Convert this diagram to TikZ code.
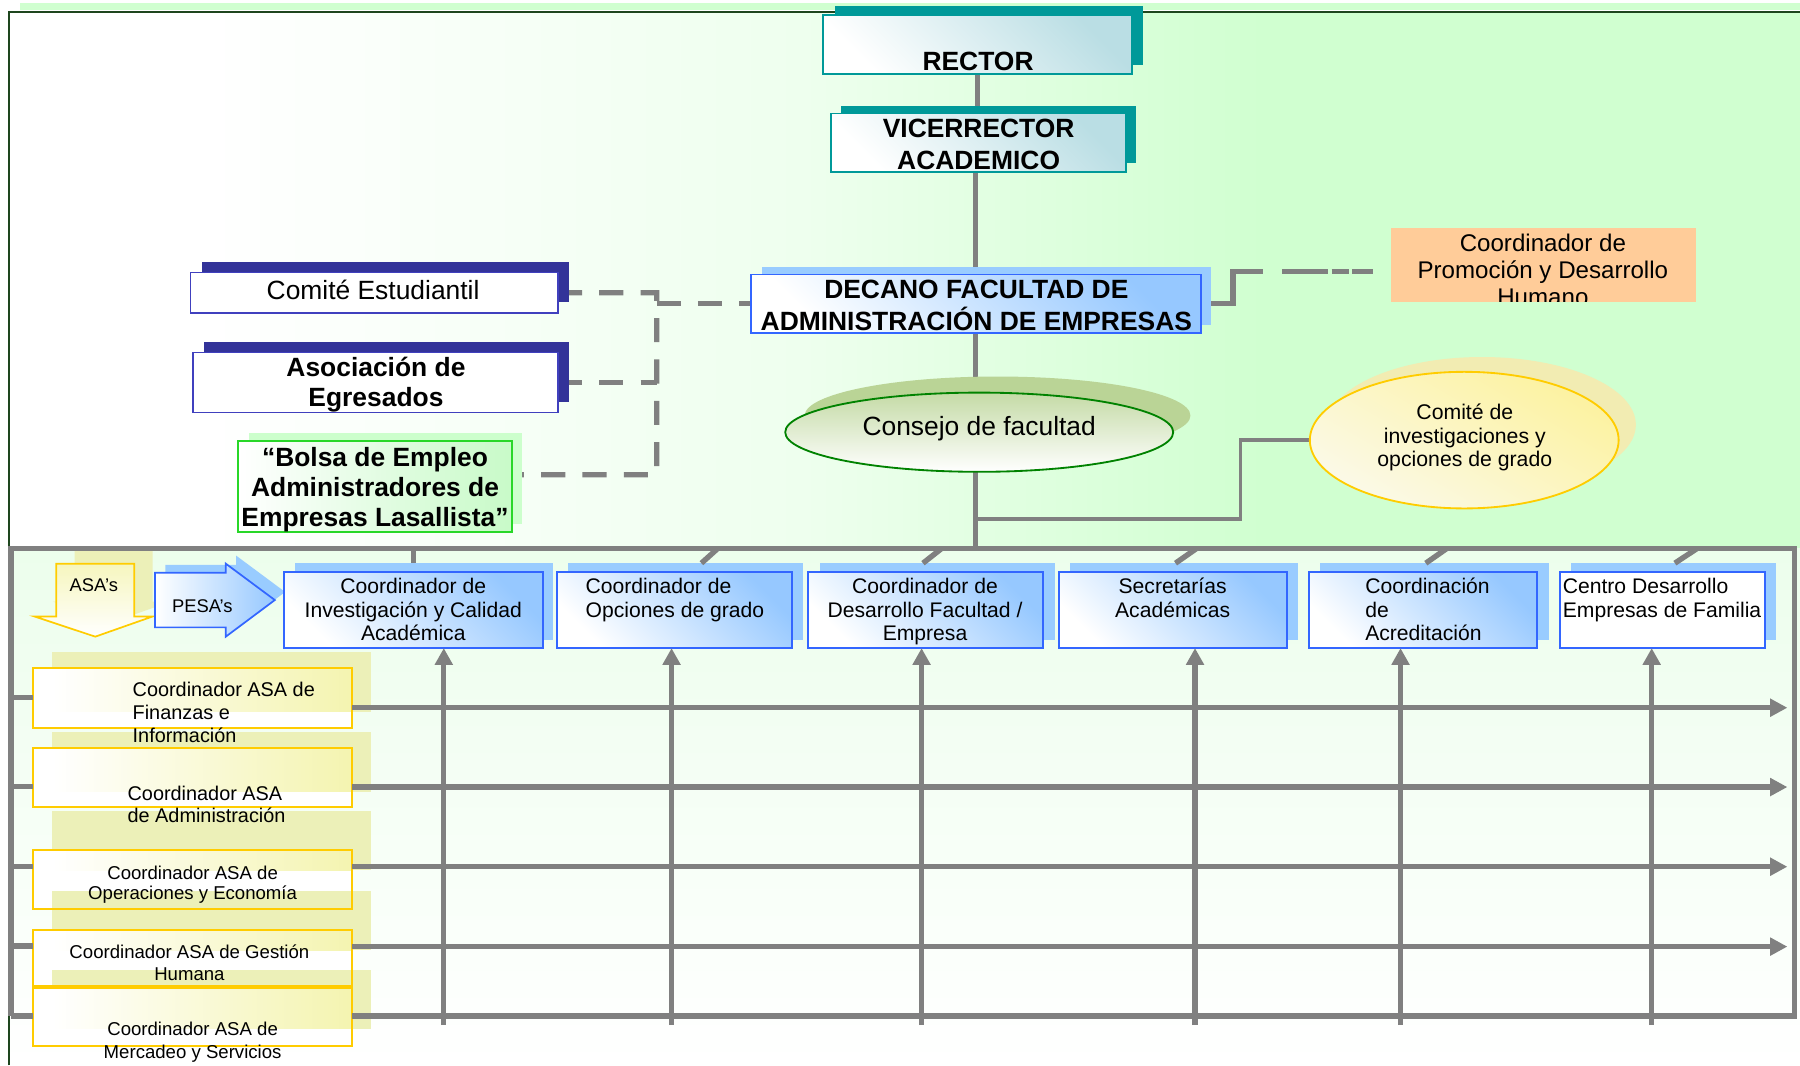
\documentclass[tikz,border=0pt]{standalone}
\usepackage{fontspec}
\setmainfont{Liberation Sans}
\usetikzlibrary{arrows.meta,calc,shapes.geometric}
\definecolor{gline}{RGB}{128,128,128}
\definecolor{bggreen}{RGB}{208,255,208}
\definecolor{midgreen}{RGB}{238,255,238}
\definecolor{lowgreen}{RGB}{236,254,236}
\definecolor{frameg}{RGB}{30,70,30}
\definecolor{tealc}{RGB}{0,153,153}
\definecolor{tealfill}{RGB}{186,222,228}
\definecolor{navysh}{RGB}{51,51,153}
\definecolor{navybd}{RGB}{64,64,190}
\definecolor{bluebd}{RGB}{51,102,255}
\definecolor{bluesh}{RGB}{153,204,255}
\definecolor{bluefill}{RGB}{150,200,255}
\definecolor{orangec}{RGB}{255,204,153}
\definecolor{goldc}{RGB}{255,204,0}
\definecolor{yshadow}{RGB}{236,240,184}
\definecolor{yover}{RGB}{244,244,176}
\definecolor{yarrow}{RGB}{246,246,190}
\definecolor{greenbd}{RGB}{40,215,40}
\definecolor{greensh}{RGB}{204,255,204}
\definecolor{greenfill}{RGB}{200,250,200}
\definecolor{olivesh}{RGB}{186,212,150}
\definecolor{darkgreen}{RGB}{0,130,0}
\definecolor{yellsh}{RGB}{242,236,178}
\definecolor{yellfill}{RGB}{252,242,160}
\newcommand{\fsz}[2]{\fontsize{#1}{#2}\selectfont}
\pgfdeclarelayer{back}
\pgfdeclarelayer{lines}
\pgfsetlayers{back,lines,main}
\begin{document}
\begin{tikzpicture}[x=1pt,y=-1pt,line join=miter,
 gl/.style={draw=gline,line width=4.7},
 gmid/.style={draw=gline,line width=3.9},
 gthin/.style={draw=gline,line width=2.9},
 gdash/.style={draw=gline,line width=4.6,dash pattern=on 21pt off 15pt},
 pdash/.style={draw=gline,line width=4.6,dash pattern=on 40pt off 3pt on 15pt off 3pt},
 uparr/.style={draw=gline,line width=4.5,-{Triangle[length=14.5pt,width=15pt]}},
 rarr/.style={draw=gline,line width=4.7,-{Triangle[length=15pt,width=15pt]}},
 boxbase/.style={rectangle,inner sep=0pt,outer sep=0pt,anchor=north west},
 tealbox/.style={boxbase,draw=tealc,line width=1.3,top color=tealfill,bottom color=white,shading angle=-45},
 navybox/.style={boxbase,draw=navybd,line width=1.4,fill=white},
 bluebox/.style={boxbase,draw=bluebd,line width=1.5,top color=bluefill,bottom color=white,shading angle=-45},
 whitebox/.style={boxbase,draw=bluebd,line width=1.5,fill=white},
 greenbox/.style={boxbase,draw=greenbd,line width=1.6,left color=white,right color=greenfill},
 asabox/.style={boxbase,draw=goldc,line width=1.6},
 txt/.style={inner sep=0pt,outer sep=0pt,text=black},
 bigb/.style={txt,font=\fsz{23}{27}\bfseries},
 rowt/.style={txt,font=\fsz{18.4}{20.6}},
]
\useasboundingbox (0,0) rectangle (1568,928);
% ---------- background ----------
\begin{pgfonlayer}{back}
\fill[white] (0,0) rectangle (1568,928);
\fill[bggreen] (17,2.3) rectangle (1568,8.7);
\shade[left color=white,right color=midgreen] (180,10) rectangle (700,478);
\shade[left color=midgreen,right color=bggreen] (699.5,10) rectangle (1100,478);
\fill[bggreen] (1099.5,10) rectangle (1568,478);
\shade[top color=lowgreen,bottom color=white] (8,478) rectangle (1568,928);
\draw[frameg,line width=1.6] (8,928) -- (8,10.5) -- (1568,10.5);
\end{pgfonlayer}

% ---------- coordinates ----------
\coordinate (busL) at (9.5,478);
\coordinate (busR) at (1563,478);
\coordinate (botR) at (1563,885);
\coordinate (botL) at (9.5,885);
\coordinate (dv1) at (572,255.1);
\coordinate (dv2) at (572,413.5);
\coordinate (dv3) at (572,264.5);
\coordinate (br1) at (850,452);
\coordinate (br2) at (1080.7,452);
\coordinate (pd1) at (1100,236.5);
\coordinate (pd2) at (1117,236.5);

% ---------- top boxes ----------
\fill[tealc] (727,5) rectangle (996,56.5);
\node[tealbox,minimum width=269pt,minimum height=51.5pt] (rector) at (717,13) {};
\fill[tealc] (733,92) rectangle (990,142);
\node[tealbox,minimum width=257pt,minimum height=51pt] (vice) at (724,99) {};
\fill[bluesh] (664,233) rectangle (1055,283);
\node[bluebox,minimum width=392pt,minimum height=51pt] (decano) at (654,239) {};
\node[boxbase,fill=orangec,minimum width=265.5pt,minimum height=64.4pt] (promo) at (1211.5,198.6) {};
\fill[navysh] (175.6,228) rectangle (495.6,262.8);
\node[navybox,minimum width=320pt,minimum height=35.2pt] (comite) at (166,237.5) {};
\fill[navysh] (177.7,298) rectangle (495.6,350);
\node[navybox,minimum width=318pt,minimum height=52.5pt] (asoc) at (168,307) {};
\fill[greensh] (217,377) rectangle (455,456.5);
\node[greenbox,minimum width=238.5pt,minimum height=79.5pt] (bolsa) at (207.5,384) {};
\fill[olivesh] (869,362) ellipse [x radius=168,y radius=34];
\node[ellipse,draw=darkgreen,line width=1.6,top color=olivesh!85!white,middle color=olivesh!55!white,bottom color=white,minimum width=338pt,minimum height=69pt,inner sep=0pt] (consejo) at (853,376.5) {};
\fill[yellsh] (1291,370) ellipse [x radius=134,y radius=59];
\node[ellipse,draw=goldc,line width=1.6,top color=yellfill,bottom color=yellsh!30!white,shading angle=-30,minimum width=269pt,minimum height=119pt,inner sep=0pt] (cominv) at (1275.5,383.4) {};

% ---------- top connectors ----------
\begin{pgfonlayer}{lines}
\draw[gmid] (rector.south) -- (rector.south |- vice.north);
\draw[gl] (decano.north |- vice.south) -- (decano.north);
\draw[gl] (decano.south) -- (decano.south |- busL);
\draw[gthin] (br1) -- (br2) |- (cominv.west);
\draw[gdash] (comite.east) -- (dv1) -- (dv2) -- (dv2 -| bolsa.east);
\draw[gdash] (asoc.east) -- (asoc.east -| dv1);
\draw[gdash] (dv3) -- (decano.west);
\draw[gl] (decano.east) -- ++(28,0) |- (pd1);
\draw[pdash,shorten >=15.5pt] (pd2) -- (pd2 -| promo.west);
\end{pgfonlayer}

% ---------- ASA's and PESA's arrows ----------
\fill[yshadow] (65,478) -- (133,478) -- (133,524) -- (149,524) -- (99,541.6) -- (46,524) -- (65,524) -- cycle;
\draw[goldc,line width=1.5,top color=yarrow,bottom color=white] (49,491) -- (117,491) -- (117,537) -- (133,537) -- (83,554.6) -- (30,537) -- (49,537) -- cycle;
\fill[bluesh] (144,492) -- (205.7,492) -- (205.7,484) -- (248.4,515.7) -- (205.7,547.6) -- (205.7,539.5) -- (144,539.5) -- cycle;
\draw[bluebd,line width=1.5,left color=white,right color=bluefill] (135,499) -- (196.7,499) -- (196.7,491) -- (239.4,522.7) -- (196.7,554.6) -- (196.7,546.5) -- (135,546.5) -- cycle;

% ---------- row boxes ----------
\fill[bluesh] (257,490.6) rectangle ++(225,67);
\node[bluebox,minimum width=225.3pt,minimum height=66.6pt] (inv) at (247.4,498) {};
\fill[bluesh] (494.7,490.6) rectangle ++(205,67);
\node[bluebox,minimum width=205pt,minimum height=66.6pt] (opc) at (485,498) {};
\fill[bluesh] (714,490.6) rectangle ++(204.6,67);
\node[bluebox,minimum width=204.6pt,minimum height=66.6pt] (des) at (704,498) {};
\fill[bluesh] (932.5,490.6) rectangle ++(198.5,67);
\node[bluebox,minimum width=198.5pt,minimum height=66.6pt] (sec) at (922.5,498) {};
\fill[bluesh] (1150,490.6) rectangle ++(199,67);
\node[bluebox,minimum width=199pt,minimum height=66.6pt] (coa) at (1140,498) {};
\fill[bluesh] (1368.7,490.6) rectangle ++(178.8,67);
\node[whitebox,minimum width=178.8pt,minimum height=66.6pt] (cen) at (1358.7,498) {};

% ---------- ASA coordinator boxes ----------
\fill[yshadow] (45.6,568) rectangle (323.2,620);
\fill[white] (29,582) rectangle (306.7,634);
\shade[left color=white,right color=yover] (45.6,582) rectangle (306.7,620);
\fill[yshadow] (45.6,637.5) rectangle (323.2,689.6);
\fill[white] (29,651.7) rectangle (306.7,703);
\shade[left color=white,right color=yover] (45.6,651.7) rectangle (306.7,689.6);
\fill[yshadow] (45.6,706.6) rectangle (323.2,758);
\fill[white] (29,740.5) rectangle (306.7,792);
\shade[left color=white,right color=yover] (45.6,740.5) rectangle (306.7,758);
\fill[yshadow] (45.6,776) rectangle (323.2,827.6);
\fill[white] (29,810) rectangle (306.7,859);
\shade[left color=white,right color=yover] (45.6,810) rectangle (306.7,827.6);
\fill[yshadow] (45.6,845) rectangle (323.2,896);
\fill[white] (29,860.7) rectangle (306.7,911);
\shade[left color=white,right color=yover] (45.6,860.7) rectangle (306.7,896);
\node[asabox,minimum width=277.7pt,minimum height=52pt] (asa1) at (29,582) {};
\node[asabox,minimum width=277.7pt,minimum height=51.3pt] (asa2) at (29,651.7) {};
\node[asabox,minimum width=277.7pt,minimum height=51.5pt] (asa3) at (29,740.5) {};
\node[asabox,minimum width=277.7pt,minimum height=49pt] (asa4) at (29,810) {};
\node[asabox,minimum width=277.7pt,minimum height=50.3pt] (asa5) at (29,860.7) {};

% ---------- grid connectors ----------
\draw[gl] (botL) -- (busL) -- (busR) -- (botR) -- (botR -| asa5.east);
\draw[gl] (botL) -- (botL -| asa5.west);
\coordinate (s1) at (9.5,607.7);
\coordinate (s2) at (9.5,685);
\coordinate (s3) at (9.5,755);
\coordinate (s4) at (9.5,824);
\draw[gl] (s1) -- (s1 -| asa1.west);
\draw[gl] (s2) -- (s2 -| asa2.west);
\draw[gl] (s3) -- (s3 -| asa3.west);
\draw[gl] (s4) -- (s4 -| asa4.west);
\coordinate (r1) at (1557,616.5);
\coordinate (r2) at (1557,685.6);
\coordinate (r3) at (1557,755);
\coordinate (r4) at (1557,824.6);
\draw[rarr] (r1 -| asa1.east) -- (r1);
\draw[rarr] (r2 -| asa2.east) -- (r2);
\draw[rarr] (r3 -| asa3.east) -- (r3);
\draw[rarr] (r4 -| asa4.east) -- (r4);
\coordinate (u1) at (386.6,893);
\coordinate (u2) at (585,893);
\coordinate (u3) at (802.8,893);
\coordinate (u4) at (1041,893);
\coordinate (u5) at (1220,893);
\coordinate (u6) at (1438.8,893);
\draw[uparr] (u1) -- (u1 |- inv.south);
\draw[uparr] (u2) -- (u2 |- opc.south);
\draw[uparr] (u3) -- (u3 |- des.south);
\draw[uparr] (u4) -- (u4 |- sec.south);
\draw[uparr] (u5) -- (u5 |- coa.south);
\draw[uparr] (u6) -- (u6 |- cen.south);
\coordinate (d1) at (360,478);
\coordinate (d2) at (625,478);
\coordinate (d3) at (820,478);
\coordinate (d4) at (1042,478);
\coordinate (d5) at (1260,478);
\coordinate (d6) at (1478,478);
\draw[gl] (d1) -- ($(inv.north west)+(112.6,-7.4)$);
\draw[gl] (d2) -- ($(opc.north west)+(126,-7.4)$);
\draw[gl] (d3) -- ($(des.north west)+(100,-7.4)$);
\draw[gl] (d4) -- ($(sec.north west)+(101.5,-7.4)$);
\draw[gl] (d5) -- ($(coa.north west)+(102,-7.4)$);
\draw[gl] (d6) -- ($(cen.north west)+(100.3,-7.4)$);

% ---------- texts ----------
\node[bigb,anchor=base] (rectorT) at (852,61.8) {RECTOR};
\node[txt,anchor=north,align=center,font=\fsz{23}{27.5}\bfseries] (viceT) at (852.5,104) {VICERRECTOR\\ACADEMICO};
\node[txt,anchor=north,align=center,font=\fsz{23}{27.3}\bfseries] (decanoT) at (850.5,244.2) {DECANO FACULTAD DE\\ADMINISTRACIÓN DE EMPRESAS};
\begin{scope}
\clip (1211.5,198.6) rectangle (1477,263);
\node[txt,anchor=north,align=center,font=\fsz{21}{23.4}] (promoT) at (1344,204.2) {Coordinador de\\Promoción y Desarrollo\\Humano};
\end{scope}
\node[txt,anchor=base,font=\fsz{23}{27}] (comiteT) at (325,260.7) {Comité Estudiantil};
\node[txt,anchor=north,align=center,font=\fsz{23}{26}\bfseries] (asocT) at (327.5,311) {Asociación de\\Egresados};
\node[txt,anchor=north,align=center,font=\fsz{23}{26.2}\bfseries] (bolsaT) at (326.7,390) {“Bolsa de Empleo\\Administradores de\\Empresas Lasallista”};
\node[txt,anchor=base,font=\fsz{23}{27}] (consejoT) at (853,379) {Consejo de facultad};
\node[txt,anchor=north,align=center,font=\fsz{18.5}{20.6}] (cominvT) at (1276,351.7) {Comité de\\investigaciones y\\opciones de grado};
\node[txt,anchor=base,font=\fsz{16}{19}] (asaT) at (81.7,515.4) {ASA’s};
\node[txt,anchor=base,font=\fsz{16}{19}] (pesaT) at (176.3,533.7) {PESA’s};
\node[rowt,anchor=north,align=center] (invT) at (360,503.6) {Coordinador de\\Investigación y Calidad\\Académica};
\node[rowt,anchor=north west,align=left] (opcT) at (510.2,503.6) {Coordinador de\\Opciones de grado};
\node[rowt,anchor=north,align=center] (desT) at (805.8,503.6) {Coordinador de\\Desarrollo Facultad /\\Empresa};
\node[rowt,anchor=north,align=center] (secT) at (1021.5,503.4) {Secretarías\\Académicas};
\node[rowt,anchor=north west,align=left] (coaT) at (1189.3,503.6) {Coordinación\\de\\Acreditación};
\node[rowt,anchor=north west,align=left] (cenT) at (1361.4,503.6) {Centro Desarrollo\\Empresas de Familia};
\node[txt,anchor=north west,align=left,font=\fsz{17.3}{20}] (a1T) at (115.6,594.5) {Coordinador ASA de\\Finanzas e\\Información};
\node[txt,anchor=north west,align=left,font=\fsz{17.3}{19.7}] (a2T) at (111.2,684.5) {Coordinador ASA\\de Administración};
\node[txt,anchor=north,align=center,font=\fsz{16.2}{17.6}] (a3T) at (167.8,754.4) {Coordinador ASA de\\Operaciones y Economía};
\node[txt,anchor=north,align=center,font=\fsz{16.2}{18.9}] (a4T) at (165,823.2) {Coordinador ASA de Gestión\\Humana};
\node[txt,anchor=north,align=center,font=\fsz{16.2}{20.3}] (a5T) at (167.8,890) {Coordinador ASA de\\Mercadeo y Servicios};
\end{tikzpicture}
\end{document}
